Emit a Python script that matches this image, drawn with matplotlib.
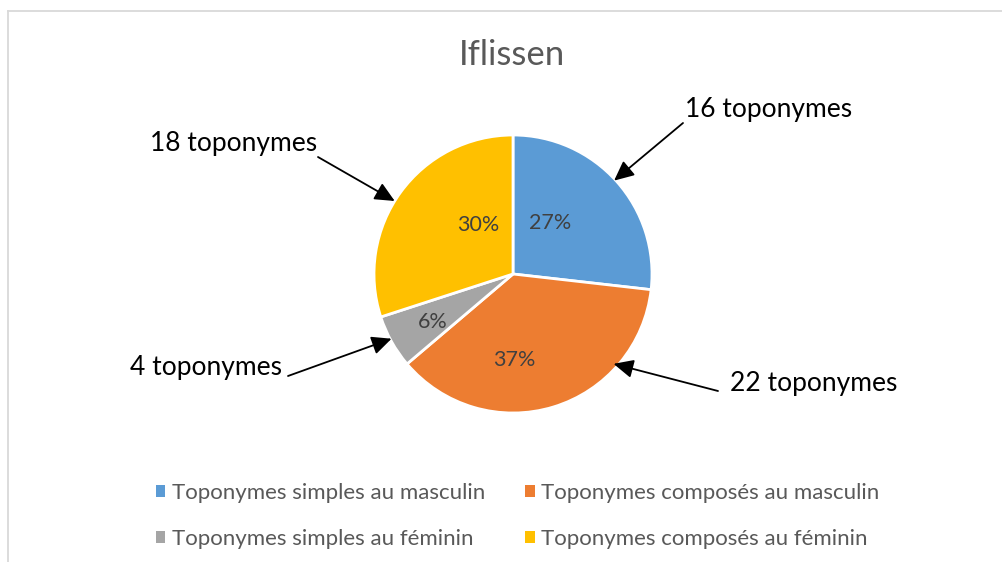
import matplotlib
matplotlib.use("Agg")
import matplotlib.pyplot as plt
from matplotlib.patches import Patch
from matplotlib.lines import Line2D
import numpy as np

# ---- data ----
categories = ["Toponymes simples au masculin", "Toponymes composés au masculin",
              "Toponymes simples au féminin", "Toponymes composés au féminin"]
shares = [26.8, 37.0, 6.2, 30.0]          # percent of pie
counts = [16, 22, 4, 18]                  # toponym counts for callouts
title = "Iflissen"

# ---- styles / layout ----
colors = ["#5B9BD5", "#ED7D31", "#A5A5A5", "#FFC000"]
FONT = "Lato"
W, H = 1003, 562
cx, cy, R = 513, 274, 139          # pie centre / radius in pixels (from top)

fig = plt.figure(figsize=(W / 100, H / 100), dpi=100)
fig.patch.set_facecolor("white")

ax = fig.add_axes([(cx - R) / W, 1 - (cy + R) / H, 2 * R / W, 2 * R / H])
wedges, _t, autotexts = ax.pie(shares, colors=colors, startangle=90, counterclock=False,
                               radius=1.0, autopct="%.0f%%",
                               wedgeprops=dict(edgecolor="white", linewidth=2),
                               textprops=dict(fontfamily=FONT, fontsize=15.5, color="#404040"))
ax.set_xlim(-1, 1)
ax.set_ylim(-1, 1)
ax.set_aspect("equal")
ax.axis("off")
for w in wedges:
    w.set_clip_on(False)

# percent-label placement (radius fraction, angle deg)
pct_pos = [(0.45, 54), (0.62, 270.7), (0.67, 211), (0.43, 125.5)]
for t, (r, a) in zip(autotexts, pct_pos):
    t.set_position((r * np.cos(np.radians(a)), r * np.sin(np.radians(a))))
    t.set_ha("center"); t.set_va("center")

# callouts (slice order): text centre (px from top-left), arrow tail (px), tip position on wedge
callout_text = [(769, 110), (814, 383), (206, 367), (234, 143)]
callout_tail = [(683, 123), (718, 391), (288, 376), (318, 157)]
tip_frac = [0.51, 0.735, 0.45, 0.54]
tip_r = [0.99, 0.97, 0.99, 1.0]

for i, w in enumerate(wedges):
    th = np.radians(w.theta1 + tip_frac[i] * (w.theta2 - w.theta1))
    tip = (tip_r[i] * np.cos(th), tip_r[i] * np.sin(th))
    tx, ty = callout_tail[i]
    ax.annotate("", xy=tip, xycoords="data", xytext=(tx, H - ty), textcoords="figure pixels",
                annotation_clip=False,
                arrowprops=dict(arrowstyle="-|>,head_length=0.6,head_width=0.28", mutation_scale=20,
                                color="black", lw=1.3, shrinkA=0, shrinkB=0))
    lx, ly = callout_text[i]
    fig.text(lx / W, 1 - ly / H, f"{counts[i]} toponymes", ha="center", va="center",
             fontfamily=FONT, fontsize=19, color="black")

# title
fig.text(512 / W, 1 - 55 / H, title, ha="center", va="center", fontfamily=FONT,
         fontsize=25, color="#595959")

# legend (row-major order: blue, orange / gray, yellow)
order = [0, 2, 1, 3]
handles = [Patch(facecolor=colors[i], edgecolor="none") for i in order]
labels = [categories[i] for i in order]
leg = fig.legend(handles, labels, ncol=2, loc="upper left",
                 bbox_to_anchor=(156 / W, 1 - 483 / H), frameon=False,
                 prop=dict(family=FONT, size=16), labelcolor="#595959",
                 handlelength=0.42, handleheight=0.42, handletextpad=0.3,
                 columnspacing=1.8, labelspacing=1.17, borderpad=0, borderaxespad=0)

# chart border (left & top, cropped)
fig.add_artist(Line2D([8 / W, 8 / W], [0, 1 - 11 / H], transform=fig.transFigure,
                      color="#D9D9D9", lw=1.3))
fig.add_artist(Line2D([8 / W, 1], [1 - 11 / H, 1 - 11 / H], transform=fig.transFigure,
                      color="#D9D9D9", lw=1.3))

fig.savefig("out.png", dpi=100, facecolor="white")
